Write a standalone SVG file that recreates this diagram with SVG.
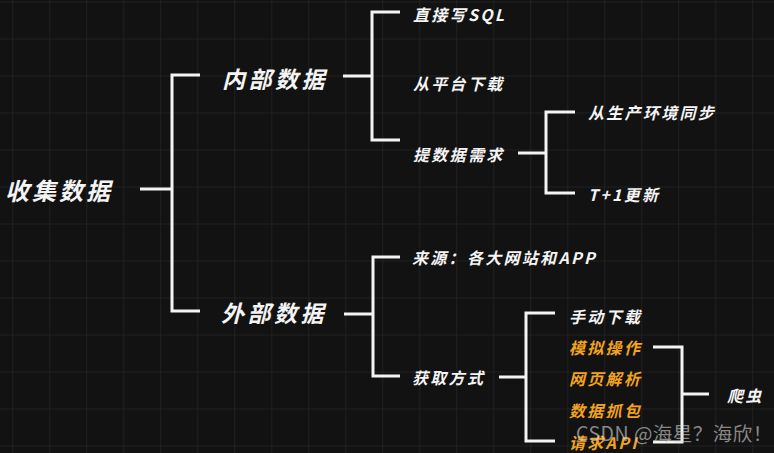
<svg xmlns="http://www.w3.org/2000/svg" width="774" height="453" viewBox="0 0 774 453">
<defs>
<pattern id="grid" x="12.3" y="1.5" width="37" height="37" patternUnits="userSpaceOnUse">
<path d="M0 0V37M0 0H37" fill="none" stroke="#252525" stroke-width="1.5"/>
</pattern>
<style>
.bg{fill:#121212}
.c{fill:none;stroke:#f4f4f4;stroke-width:3;stroke-linecap:butt;stroke-linejoin:miter}
text{font-family:"Noto Sans CJK SC","Noto Sans",sans-serif;font-weight:700;font-style:italic;dominant-baseline:central}
.l0{font-size:24px;letter-spacing:3px;fill:#f4f4f4}
.l1{font-size:23px;letter-spacing:3.5px;fill:#f4f4f4}
.l2{font-size:16px;letter-spacing:2.3px;fill:#f4f4f4}
.o{fill:#f2a31f}
.wm{font-family:"Noto Sans CJK SC","Noto Sans",sans-serif;font-weight:400;font-style:normal;font-size:19.5px;fill:#d8d8d8;fill-opacity:0.6;letter-spacing:0.5px}
</style>
</defs>
<rect class="bg" width="774" height="453"/>
<rect width="774" height="453" fill="url(#grid)"/>
<g id="connectors">
<path class="c" d="M140 189H172M200 75H172V311H200"/>
<path class="c" d="M343 76H372M400 12H372V140H400"/>
<path class="c" d="M518 153H546M575 112H546V193H575"/>
<path class="c" d="M344 314H373M400 257H373V376H400"/>
<path class="c" d="M499 377H526M555 313H526V441H555"/>
<path class="c" d="M653 347H682V442H653M682 394H709"/>
</g>
<g id="n-root"><text class="l0" x="5" y="189">收集数据</text></g>
<g id="n-internal"><text class="l1" x="222" y="78">内部数据</text></g>
<g id="n-external"><text class="l1" x="221" y="312">外部数据</text></g>
<g id="n-sql"><text class="l2" x="413" y="14">直接写SQL</text></g>
<g id="n-platform"><text class="l2" x="413" y="83">从平台下载</text></g>
<g id="n-request"><text class="l2" x="413" y="154">提数据需求</text></g>
<g id="n-sync"><text class="l2" x="588" y="112">从生产环境同步</text></g>
<g id="n-t1"><text class="l2" x="588" y="194">T+1更新</text></g>
<g id="n-source"><text class="l2" x="412" y="257">来源：各大网站和APP</text></g>
<g id="n-method"><text class="l2" x="412" y="377">获取方式</text></g>
<g id="n-manual"><text class="l2" x="569" y="316">手动下载</text></g>
<g id="n-sim"><text class="l2 o" x="569" y="347">模拟操作</text></g>
<g id="n-parse"><text class="l2 o" x="569" y="378">网页解析</text></g>
<g id="n-capture"><text class="l2 o" x="569" y="410">数据抓包</text></g>
<g id="n-api"><text class="l2 o" x="569" y="442">请求API</text></g>
<g id="n-crawler"><text class="l2" x="727" y="395">爬虫</text></g>
<text class="wm" x="576" y="432">CSDN @海星？海欣！</text>
</svg>
